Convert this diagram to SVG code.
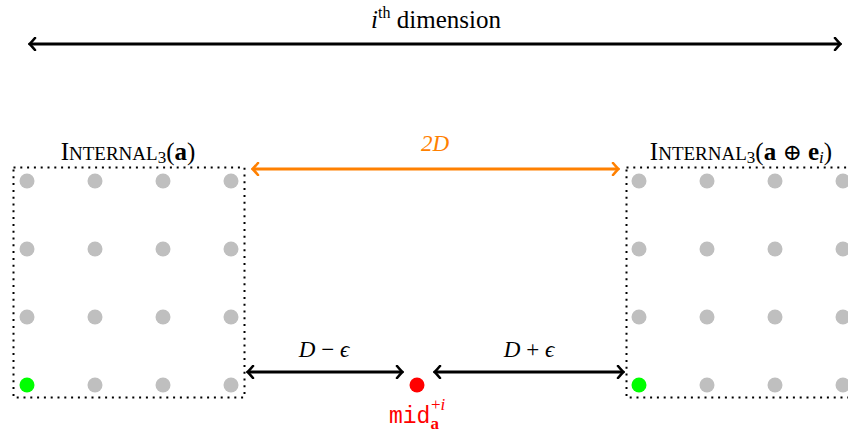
<svg xmlns="http://www.w3.org/2000/svg" width="848" height="435" viewBox="0 0 848 435">
<style>
.box{fill:none;stroke:#000;stroke-width:2;stroke-dasharray:2 4.8}
.g{fill:#BFBFBF}
.grn{fill:#00FF00}
.t{font-family:"Liberation Serif",serif;fill:#000}
.it{font-style:italic}
.arr{fill:none;stroke:#000;stroke-width:3}
.arrO{fill:none;stroke:#FF8000;stroke-width:3}
</style>
<defs>
<marker id="ah" viewBox="-7 -7 9 14" refX="0" refY="0" markerWidth="9" markerHeight="14" markerUnits="userSpaceOnUse" orient="auto-start-reverse">
<path d="M-5,-6 Q-1,-1.3 0.5,0 Q-1,1.3 -5,6" fill="none" stroke="#000" stroke-width="2.6" stroke-linecap="round"/>
</marker>
<marker id="ahO" viewBox="-7 -7 9 14" refX="0" refY="0" markerWidth="9" markerHeight="14" markerUnits="userSpaceOnUse" orient="auto-start-reverse">
<path d="M-5,-6 Q-1,-1.3 0.5,0 Q-1,1.3 -5,6" fill="none" stroke="#FF8000" stroke-width="2.6" stroke-linecap="round"/>
</marker>
</defs>
<g id="title">
<text class="t" x="436" y="28" font-size="25" text-anchor="middle"><tspan class="it">i</tspan><tspan font-size="16" dy="-10">th</tspan><tspan dy="10"> dimension</tspan></text>
</g>
<g id="box-a">
<rect class="box" x="13.5" y="167.5" width="231" height="230"/>
<text class="t" x="128" y="160" font-size="25" text-anchor="middle">I<tspan font-size="19">NTERNAL</tspan><tspan font-size="17" dy="3">3</tspan><tspan dy="-3">(</tspan><tspan font-weight="bold">a</tspan>)</text>
<g>
<circle class="g" cx="27" cy="181" r="7.5"/><circle class="g" cx="95" cy="181" r="7.5"/><circle class="g" cx="163" cy="181" r="7.5"/><circle class="g" cx="231" cy="181" r="7.5"/>
<circle class="g" cx="27" cy="249" r="7.5"/><circle class="g" cx="95" cy="249" r="7.5"/><circle class="g" cx="163" cy="249" r="7.5"/><circle class="g" cx="231" cy="249" r="7.5"/>
<circle class="g" cx="27" cy="317" r="7.5"/><circle class="g" cx="95" cy="317" r="7.5"/><circle class="g" cx="163" cy="317" r="7.5"/><circle class="g" cx="231" cy="317" r="7.5"/>
<circle class="grn" cx="27" cy="385" r="7.5"/><circle class="g" cx="95" cy="385" r="7.5"/><circle class="g" cx="163" cy="385" r="7.5"/><circle class="g" cx="231" cy="385" r="7.5"/>
</g>
</g>
<g id="box-b">
<rect class="box" x="626.5" y="167.5" width="231" height="230"/>
<text class="t" x="741" y="160" font-size="25" text-anchor="middle">I<tspan font-size="19">NTERNAL</tspan><tspan font-size="17" dy="3">3</tspan><tspan dy="-3">(</tspan><tspan font-weight="bold">a</tspan> <tspan font-family="'DejaVu Serif',serif" font-size="23">⊕</tspan> <tspan font-weight="bold">e</tspan><tspan class="it" font-size="17" dy="3">i</tspan><tspan dy="-3">)</tspan></text>
<g>
<circle class="g" cx="639" cy="181" r="7.5"/><circle class="g" cx="707" cy="181" r="7.5"/><circle class="g" cx="775" cy="181" r="7.5"/><circle class="g" cx="843" cy="181" r="7.5"/>
<circle class="g" cx="639" cy="249" r="7.5"/><circle class="g" cx="707" cy="249" r="7.5"/><circle class="g" cx="775" cy="249" r="7.5"/><circle class="g" cx="843" cy="249" r="7.5"/>
<circle class="g" cx="639" cy="317" r="7.5"/><circle class="g" cx="707" cy="317" r="7.5"/><circle class="g" cx="775" cy="317" r="7.5"/><circle class="g" cx="843" cy="317" r="7.5"/>
<circle class="grn" cx="639" cy="385" r="7.5"/><circle class="g" cx="707" cy="385" r="7.5"/><circle class="g" cx="775" cy="385" r="7.5"/><circle class="g" cx="843" cy="385" r="7.5"/>
</g>
</g>
<g id="mid">
<circle cx="417" cy="385" r="7.5" fill="#FF0000"/>
<text x="389" y="423" font-family="'Liberation Mono',monospace" font-size="23" fill="#FF0000">mid<tspan font-family="'Liberation Serif',serif" font-weight="bold" font-size="17" dy="6">a</tspan><tspan font-family="'Liberation Serif',serif" font-size="17" dx="-8" dy="-19">+</tspan><tspan font-family="'Liberation Serif',serif" font-style="italic" font-size="17">i</tspan></text>
</g>
<g id="connectors">
<line class="arr" x1="30" y1="44" x2="840" y2="44" marker-start="url(#ah)" marker-end="url(#ah)"/>
<line class="arrO" x1="253" y1="169" x2="618" y2="169" marker-start="url(#ahO)" marker-end="url(#ahO)"/>
<line class="arr" x1="248" y1="372" x2="402" y2="372" marker-start="url(#ah)" marker-end="url(#ah)"/>
<line class="arr" x1="435" y1="372" x2="623" y2="372" marker-start="url(#ah)" marker-end="url(#ah)"/>
</g>
<g id="labels">
<text class="t it" x="435" y="151" font-size="23" style="fill:#FF8000" text-anchor="middle">2D</text>
<text class="t" x="324" y="357" font-size="23" text-anchor="middle"><tspan class="it">D</tspan> − <tspan class="it">ϵ</tspan></text>
<text class="t" x="529" y="357" font-size="23" text-anchor="middle"><tspan class="it">D</tspan> + <tspan class="it">ϵ</tspan></text>
</g>
</svg>
